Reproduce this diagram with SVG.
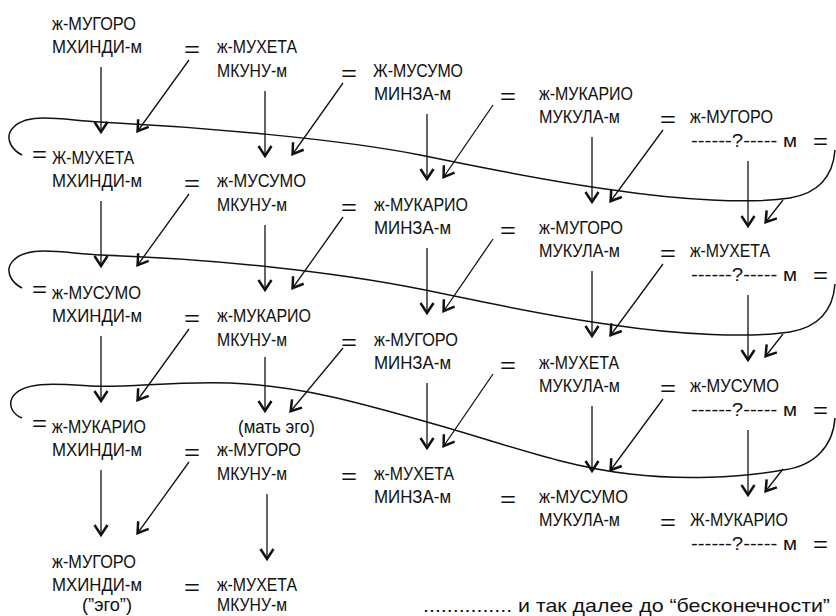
<svg xmlns="http://www.w3.org/2000/svg" width="836" height="616" viewBox="0 0 836 616">
<style>
.t{font-family:"Liberation Sans",Arial,sans-serif;font-size:19px;fill:#111}
.eq{font-family:"Liberation Sans",Arial,sans-serif;font-size:22px;fill:#111}
.ln{stroke:#111;stroke-width:1.3;fill:none;marker-end:url(#ah)}
.cv{stroke:#111;stroke-width:1.5;fill:none}
</style>
<defs>
<marker id="ah" viewBox="-14 -10 20 20" refX="1" refY="0" markerWidth="20" markerHeight="20" markerUnits="userSpaceOnUse" orient="auto">
<path d="M -10,-6.5 L 0,0 L -10,6.5" fill="none" stroke="#111" stroke-width="2.5"/>
</marker>
</defs>
<rect width="836" height="616" fill="#fff"/>

<g id="a1"><text class="t" x="52" y="30" textLength="84" lengthAdjust="spacingAndGlyphs">ж-МУГОРО</text><text class="t" x="52" y="53" textLength="90" lengthAdjust="spacingAndGlyphs">МХИНДИ-м</text><text class="eq" x="184" y="57" textLength="16" lengthAdjust="spacingAndGlyphs">=</text></g>
<g id="a2"><text class="t" x="217" y="53" textLength="80" lengthAdjust="spacingAndGlyphs">ж-МУХЕТА</text><text class="t" x="217" y="77" textLength="70" lengthAdjust="spacingAndGlyphs">МКУНУ-м</text><text class="eq" x="341" y="81" textLength="16" lengthAdjust="spacingAndGlyphs">=</text></g>
<g id="a3"><text class="t" x="373" y="77" textLength="90" lengthAdjust="spacingAndGlyphs">Ж-МУСУМО</text><text class="t" x="374" y="100" textLength="77" lengthAdjust="spacingAndGlyphs">МИНЗА-м</text><text class="eq" x="500" y="104" textLength="16" lengthAdjust="spacingAndGlyphs">=</text></g>
<g id="a4"><text class="t" x="539" y="100" textLength="94" lengthAdjust="spacingAndGlyphs">ж-МУКАРИО</text><text class="t" x="539" y="123" textLength="81" lengthAdjust="spacingAndGlyphs">МУКУЛА-м</text><text class="eq" x="660" y="127" textLength="16" lengthAdjust="spacingAndGlyphs">=</text></g>
<g id="a5"><text class="t" x="690" y="123" textLength="83" lengthAdjust="spacingAndGlyphs">ж-МУГОРО</text><text class="t" x="691" y="147" textLength="106" lengthAdjust="spacingAndGlyphs">------?----- м</text><text class="eq" x="813" y="149" textLength="15" lengthAdjust="spacingAndGlyphs">=</text></g>

<g id="b1"><text class="eq" x="32" y="162" textLength="15" lengthAdjust="spacingAndGlyphs">=</text><text class="t" x="52" y="164" textLength="82" lengthAdjust="spacingAndGlyphs">Ж-МУХЕТА</text><text class="t" x="52" y="187" textLength="90" lengthAdjust="spacingAndGlyphs">МХИНДИ-м</text><text class="eq" x="184" y="191" textLength="16" lengthAdjust="spacingAndGlyphs">=</text></g>
<g id="b2"><text class="t" x="217" y="187" textLength="89" lengthAdjust="spacingAndGlyphs">ж-МУСУМО</text><text class="t" x="217" y="211" textLength="70" lengthAdjust="spacingAndGlyphs">МКУНУ-м</text><text class="eq" x="341" y="215" textLength="16" lengthAdjust="spacingAndGlyphs">=</text></g>
<g id="b3"><text class="t" x="374" y="211" textLength="94" lengthAdjust="spacingAndGlyphs">ж-МУКАРИО</text><text class="t" x="374" y="234" textLength="77" lengthAdjust="spacingAndGlyphs">МИНЗА-м</text><text class="eq" x="500" y="238" textLength="16" lengthAdjust="spacingAndGlyphs">=</text></g>
<g id="b4"><text class="t" x="539" y="234" textLength="84" lengthAdjust="spacingAndGlyphs">ж-МУГОРО</text><text class="t" x="539" y="257" textLength="81" lengthAdjust="spacingAndGlyphs">МУКУЛА-м</text><text class="eq" x="660" y="261" textLength="16" lengthAdjust="spacingAndGlyphs">=</text></g>
<g id="b5"><text class="t" x="690" y="257" textLength="80" lengthAdjust="spacingAndGlyphs">ж-МУХЕТА</text><text class="t" x="691" y="281" textLength="106" lengthAdjust="spacingAndGlyphs">------?----- м</text><text class="eq" x="813" y="283" textLength="15" lengthAdjust="spacingAndGlyphs">=</text></g>

<g id="c1"><text class="eq" x="32" y="297" textLength="15" lengthAdjust="spacingAndGlyphs">=</text><text class="t" x="52" y="299" textLength="89" lengthAdjust="spacingAndGlyphs">ж-МУСУМО</text><text class="t" x="52" y="322" textLength="90" lengthAdjust="spacingAndGlyphs">МХИНДИ-м</text><text class="eq" x="184" y="326" textLength="16" lengthAdjust="spacingAndGlyphs">=</text></g>
<g id="c2"><text class="t" x="217" y="322" textLength="94" lengthAdjust="spacingAndGlyphs">ж-МУКАРИО</text><text class="t" x="217" y="346" textLength="70" lengthAdjust="spacingAndGlyphs">МКУНУ-м</text><text class="eq" x="341" y="350" textLength="16" lengthAdjust="spacingAndGlyphs">=</text></g>
<g id="c3"><text class="t" x="374" y="346" textLength="84" lengthAdjust="spacingAndGlyphs">ж-МУГОРО</text><text class="t" x="374" y="369" textLength="77" lengthAdjust="spacingAndGlyphs">МИНЗА-м</text><text class="eq" x="500" y="373" textLength="16" lengthAdjust="spacingAndGlyphs">=</text></g>
<g id="c4"><text class="t" x="539" y="369" textLength="80" lengthAdjust="spacingAndGlyphs">ж-МУХЕТА</text><text class="t" x="539" y="392" textLength="81" lengthAdjust="spacingAndGlyphs">МУКУЛА-м</text><text class="eq" x="660" y="396" textLength="16" lengthAdjust="spacingAndGlyphs">=</text></g>
<g id="c5"><text class="t" x="690" y="392" textLength="89" lengthAdjust="spacingAndGlyphs">ж-МУСУМО</text><text class="t" x="691" y="416" textLength="106" lengthAdjust="spacingAndGlyphs">------?----- м</text><text class="eq" x="813" y="418" textLength="15" lengthAdjust="spacingAndGlyphs">=</text></g>

<g id="d1"><text class="eq" x="32" y="431" textLength="15" lengthAdjust="spacingAndGlyphs">=</text><text class="t" x="52" y="433" textLength="94" lengthAdjust="spacingAndGlyphs">ж-МУКАРИО</text><text class="t" x="52" y="456" textLength="90" lengthAdjust="spacingAndGlyphs">МХИНДИ-м</text><text class="eq" x="184" y="460" textLength="16" lengthAdjust="spacingAndGlyphs">=</text></g>
<g id="d2"><text class="t" x="238" y="433" textLength="77" lengthAdjust="spacingAndGlyphs">(мать эго)</text><text class="t" x="217" y="456" textLength="84" lengthAdjust="spacingAndGlyphs">ж-МУГОРО</text><text class="t" x="217" y="480" textLength="70" lengthAdjust="spacingAndGlyphs">МКУНУ-м</text><text class="eq" x="341" y="484" textLength="16" lengthAdjust="spacingAndGlyphs">=</text></g>
<g id="d3"><text class="t" x="374" y="480" textLength="80" lengthAdjust="spacingAndGlyphs">ж-МУХЕТА</text><text class="t" x="374" y="503" textLength="77" lengthAdjust="spacingAndGlyphs">МИНЗА-м</text><text class="eq" x="500" y="507" textLength="16" lengthAdjust="spacingAndGlyphs">=</text></g>
<g id="d4"><text class="t" x="539" y="503" textLength="89" lengthAdjust="spacingAndGlyphs">ж-МУСУМО</text><text class="t" x="539" y="526" textLength="81" lengthAdjust="spacingAndGlyphs">МУКУЛА-м</text><text class="eq" x="660" y="530" textLength="16" lengthAdjust="spacingAndGlyphs">=</text></g>
<g id="d5"><text class="t" x="690" y="526" textLength="98" lengthAdjust="spacingAndGlyphs">Ж-МУКАРИО</text><text class="t" x="691" y="550" textLength="106" lengthAdjust="spacingAndGlyphs">------?----- м</text><text class="eq" x="813" y="552" textLength="15" lengthAdjust="spacingAndGlyphs">=</text></g>

<g id="e1"><text class="t" x="52" y="568" textLength="84" lengthAdjust="spacingAndGlyphs">ж-МУГОРО</text><text class="t" x="52" y="591" textLength="90" lengthAdjust="spacingAndGlyphs">МХИНДИ-м</text><text class="t" x="82" y="611" textLength="50" lengthAdjust="spacingAndGlyphs">(”эго”)</text><text class="eq" x="184" y="595" textLength="16" lengthAdjust="spacingAndGlyphs">=</text></g>
<g id="e2"><text class="t" x="217" y="591" textLength="80" lengthAdjust="spacingAndGlyphs">ж-МУХЕТА</text><text class="t" x="217" y="611" textLength="70" lengthAdjust="spacingAndGlyphs">МКУНУ-м</text></g>

<g id="note"><text class="t" x="423" y="612" textLength="407" lengthAdjust="spacingAndGlyphs">............... и так далее до “бесконечности”</text></g>

<g id="connectors">
<path class="cv" d="M 835,150 C 833,176 819,193 790,198 C 750,204 680,200 613,190 C 540,180 480,167 420,155 C 340,139 200,127 100,122 C 60,120 22,110 10,132 C 6,142 14,151 22,155"/>
<path class="cv" d="M 835,284 C 833,310 819,327 790,332 C 750,338 680,335 613,325 C 540,315 480,301 420,289 C 340,273 220,259 100,255 C 60,253 22,243 10,265 C 6,275 14,284 22,288"/>
<path class="cv" d="M 835,418 C 833,446 815,466 783,470 C 740,478 680,480 630,474 C 560,466 500,442 420,420 C 360,403 300,386 230,383 C 170,381 130,388 90,386 C 60,384 22,380 12,398 C 8,407 14,415 22,418"/>

<path class="ln" d="M101,67V133"/><path class="ln" d="M265,91V157"/><path class="ln" d="M427,114V180"/><path class="ln" d="M592,137V203"/><path class="ln" d="M748,161V227"/>
<path class="ln" d="M101,201V267"/><path class="ln" d="M265,225V291"/><path class="ln" d="M427,248V314"/><path class="ln" d="M592,271V337"/><path class="ln" d="M748,295V361"/>
<path class="ln" d="M101,336V402"/><path class="ln" d="M265,357V412"/><path class="ln" d="M427,383V449"/><path class="ln" d="M592,406V472"/><path class="ln" d="M748,430V496"/>
<path class="ln" d="M101,470V536"/><path class="ln" d="M267,494V560"/>

<path class="ln" d="M189,60L137,132"/><path class="ln" d="M343,83L292,155"/><path class="ln" d="M493,105L443,178"/><path class="ln" d="M663,130L610,202"/><path class="ln" d="M783,200L765,223"/>
<path class="ln" d="M189,194L137,266"/><path class="ln" d="M343,217L292,289"/><path class="ln" d="M493,239L443,312"/><path class="ln" d="M663,264L610,336"/><path class="ln" d="M783,334L765,357"/>
<path class="ln" d="M189,329L137,401"/><path class="ln" d="M343,348L290,412"/><path class="ln" d="M493,374L443,447"/><path class="ln" d="M663,399L610,471"/><path class="ln" d="M783,469L765,492"/>
<path class="ln" d="M189,462L137,534"/>
</g>
</svg>
